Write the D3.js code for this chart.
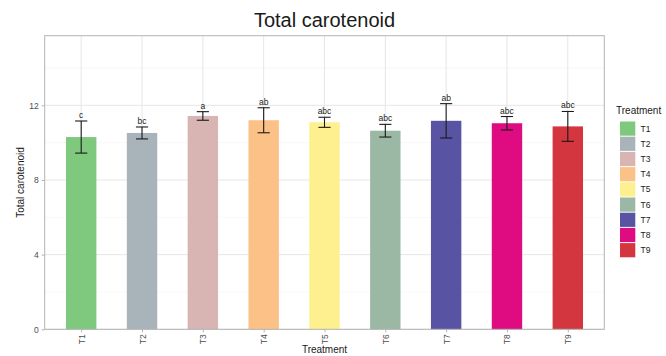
<!DOCTYPE html>
<html>
<head>
<meta charset="utf-8">
<script src="https://cdn.jsdelivr.net/npm/d3@7"></script>
<style>
  html, body { margin: 0; padding: 0; background: #fff; }
  svg { display: block; font-family: "Liberation Sans", Arial, sans-serif; }
</style>
</head>
<body>
<svg id="chart" width="666" height="356"></svg>
<script>
// Treatments and their mean total carotenoid with standard deviation
const treatments = ["T1", "T2", "T3", "T4", "T5", "T6", "T7", "T8", "T9"];
const means = [10.3, 10.52, 11.43, 11.2, 11.09, 10.64, 11.17, 11.04, 10.87];
const sds = [0.86, 0.32, 0.23, 0.67, 0.27, 0.34, 0.92, 0.36, 0.8];
const letters = ["c", "bc", "a", "ab", "abc", "abc", "ab", "abc", "abc"];
const colors = ["#7fc97f", "#a9b4ba", "#d8b4b3", "#fcc186", "#fef08f", "#9ab8a3", "#5953a4", "#de0c80", "#d3363e"];
const yTicks = [0, 4, 8, 12];
const yMinor = [2, 6, 10, 14];

const svg = d3.select("#chart");
const panel = { left: 44.7, right: 604.3, top: 35.7, bottom: 329.3 };

// Discrete axis with 0.6 band of padding on each side
const x = d3.scalePoint().domain(treatments)
  .range([panel.left, panel.right]).padding(0.6);
const step = x.step();
const y = d3.scaleLinear().domain([0, 15.73]).range([panel.bottom, panel.top]);

const g = svg.append("g");

// Grid
g.selectAll(".minor").data(yMinor).join("line")
  .attr("x1", panel.left).attr("x2", panel.right)
  .attr("y1", d => y(d)).attr("y2", d => y(d))
  .attr("stroke", "#f3f3f3").attr("stroke-width", 0.6);
g.selectAll(".major").data(yTicks).join("line")
  .attr("x1", panel.left).attr("x2", panel.right)
  .attr("y1", d => y(d)).attr("y2", d => y(d))
  .attr("stroke", "#e6e6e6").attr("stroke-width", 1);
g.selectAll(".vgrid").data(treatments).join("line")
  .attr("x1", d => x(d)).attr("x2", d => x(d))
  .attr("y1", panel.top).attr("y2", panel.bottom)
  .attr("stroke", "#e6e6e6").attr("stroke-width", 1);

// Bars
const barW = step * 0.5;
g.selectAll(".bar").data(treatments).join("rect")
  .attr("x", d => x(d) - barW / 2)
  .attr("width", barW)
  .attr("y", (d, i) => y(means[i]))
  .attr("height", (d, i) => y(0) - y(means[i]))
  .attr("fill", (d, i) => colors[i]);

// Error bars
const whisk = step * 0.2;
const eb = g.selectAll(".eb").data(treatments).join("g")
  .attr("stroke", "#1a1a1a").attr("stroke-width", 1.1);
eb.append("line")
  .attr("x1", d => x(d)).attr("x2", d => x(d))
  .attr("y1", (d, i) => y(means[i] + sds[i])).attr("y2", (d, i) => y(means[i] - sds[i]));
eb.append("line")
  .attr("x1", d => x(d) - whisk / 2).attr("x2", d => x(d) + whisk / 2)
  .attr("y1", (d, i) => y(means[i] + sds[i])).attr("y2", (d, i) => y(means[i] + sds[i]));
eb.append("line")
  .attr("x1", d => x(d) - whisk / 2).attr("x2", d => x(d) + whisk / 2)
  .attr("y1", (d, i) => y(means[i] - sds[i])).attr("y2", (d, i) => y(means[i] - sds[i]));

// Significance letters
g.selectAll(".letter").data(treatments).join("text")
  .attr("x", d => x(d))
  .attr("y", (d, i) => y(means[i] + sds[i]) - 3)
  .attr("text-anchor", "middle")
  .attr("font-size", 8.5)
  .attr("fill", "#1a1a1a")
  .text((d, i) => letters[i]);

// Panel border
g.append("rect")
  .attr("x", panel.left).attr("y", panel.top)
  .attr("width", panel.right - panel.left).attr("height", panel.bottom - panel.top)
  .attr("fill", "none").attr("stroke", "#b3b3b3").attr("stroke-width", 1);

// Axes
const yAxis = g.append("g").attr("transform", `translate(${panel.left},0)`)
  .call(d3.axisLeft(y).tickValues(yTicks).tickSize(3).tickPadding(3));
yAxis.select(".domain").remove();
yAxis.selectAll("line").attr("stroke", "#b3b3b3");
yAxis.selectAll("text").attr("font-size", 8.5).attr("fill", "#4d4d4d")
  .attr("font-family", "Liberation Sans, Arial, sans-serif");

const xAxis = g.append("g").attr("transform", `translate(0,${panel.bottom})`)
  .call(d3.axisBottom(x).tickSize(3).tickPadding(3));
xAxis.select(".domain").remove();
xAxis.selectAll("line").attr("stroke", "#b3b3b3");
xAxis.selectAll("text")
  .attr("font-size", 8.5).attr("fill", "#4d4d4d")
  .attr("font-family", "Liberation Sans, Arial, sans-serif")
  .attr("transform", "rotate(-90)")
  .attr("text-anchor", "end")
  .attr("dy", "0.35em")
  .attr("y", 0)
  .attr("x", -5);

// Titles
svg.append("text")
  .attr("x", (panel.left + panel.right) / 2).attr("y", 27)
  .attr("text-anchor", "middle").attr("font-size", 20).attr("fill", "#1a1a1a")
  .text("Total carotenoid");
svg.append("text")
  .attr("x", (panel.left + panel.right) / 2).attr("y", 353)
  .attr("text-anchor", "middle").attr("font-size", 10).attr("fill", "#1a1a1a")
  .text("Treatment");
svg.append("text")
  .attr("transform", `translate(24,${(panel.top + panel.bottom) / 2}) rotate(-90)`)
  .attr("text-anchor", "middle").attr("font-size", 10).attr("fill", "#1a1a1a")
  .text("Total carotenoid");

// Legend
const legend = svg.append("g").attr("transform", "translate(616,0)");
legend.append("text").attr("x", 0).attr("y", 114)
  .attr("font-size", 10).attr("fill", "#1a1a1a").text("Treatment");
const keys = legend.selectAll(".key").data(treatments).join("g")
  .attr("transform", (d, i) => `translate(4,${121.5 + i * 15.2})`);
keys.append("rect").attr("width", 15.3).attr("height", 14.2)
  .attr("fill", (d, i) => colors[i]);
keys.append("text").attr("x", 20.5).attr("y", 7.1).attr("dy", "0.35em")
  .attr("font-size", 8.5).attr("fill", "#1a1a1a").text(d => d);
</script>
</body>
</html>
